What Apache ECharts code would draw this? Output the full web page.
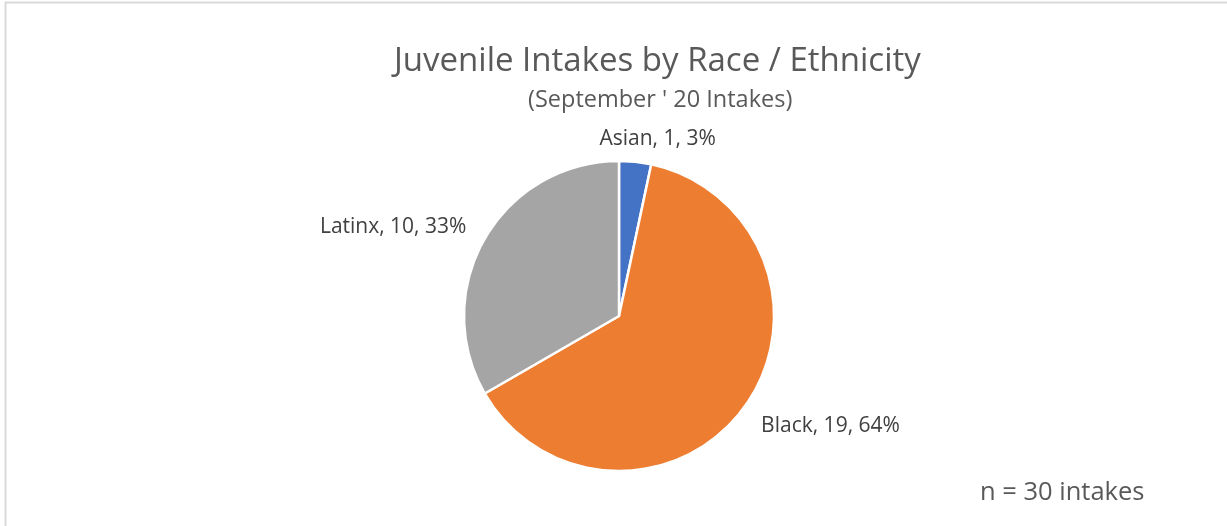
<!DOCTYPE html>
<html><head><meta charset="utf-8">
<script src="https://cdn.jsdelivr.net/npm/echarts@6/dist/echarts.min.js"></script>
<style>html,body{margin:0;padding:0;background:#fff}#c{width:1227px;height:526px}</style>
</head><body><div id="c"></div>
<script>
const categories = ['Asian', 'Black', 'Latinx'];
const counts = [1, 19, 10];
const percentLabels = ['3%', '64%', '33%'];
const colors = ['#4472C4', '#ED7D31', '#A5A5A5'];
const titleText = 'Juvenile Intakes by Race / Ethnicity';
const subtitleText = "(September ' 20 Intakes)";
const noteText = 'n = 30 intakes';

const labelNudge = [[-42, -11], [2, 12], [-3, -5]];
const font = '"Open Sans", sans-serif';
const chart = echarts.init(document.getElementById('c'));
chart.setOption({
  animation: false,
  title: [
    { text: titleText, left: 389, top: 40, textStyle: { fontFamily: font, fontSize: 33, fontWeight: 'normal', color: '#595959' } },
    { text: subtitleText, left: 523, top: 83, textStyle: { fontFamily: font, fontSize: 23.5, fontWeight: 'normal', color: '#595959' } },
    { text: noteText, left: 975, top: 475, textStyle: { fontFamily: font, fontSize: 25.5, fontWeight: 'normal', color: '#595959' } }
  ],
  graphic: [
    { type: 'line', shape: { x1: 5.5, y1: 2, x2: 5.5, y2: 526 }, style: { stroke: '#d9d9d9', lineWidth: 2 } },
    { type: 'line', shape: { x1: 5, y1: 2.5, x2: 1227, y2: 2.5 }, style: { stroke: '#d9d9d9', lineWidth: 2 } }
  ],
  series: [{
    type: 'pie',
    center: [619, 316],
    radius: [0, 155],
    startAngle: 90,
    clockwise: true,
    data: categories.map((c, i) => ({ name: c, value: counts[i], itemStyle: { color: colors[i] } })),
    itemStyle: { borderColor: '#fff', borderWidth: 2.5 },
    label: {
      show: true,
      position: 'outside',
      fontFamily: font,
      fontSize: 21,
      color: '#404040',
      formatter: p => p.name + ', ' + p.value + ', ' + percentLabels[p.dataIndex]
    },
    labelLine: { show: false, length: 12, length2: 0 },
    labelLayout: p => ({ dx: labelNudge[p.dataIndex][0], dy: labelNudge[p.dataIndex][1] })
  }]
});
</script></body></html>
